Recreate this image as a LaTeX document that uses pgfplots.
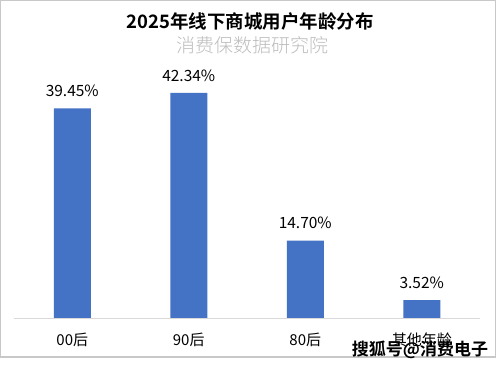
\documentclass[border=0pt]{standalone}
\usepackage{pgfplots}
\pgfplotsset{compat=1.18}
\usepackage{fontspec}
\setmainfont{Noto Sans CJK SC}
\newfontfamily\cjkbold{Noto Sans CJK SC Bold}
\newfontfamily\cjklight{Noto Sans CJK SC Light}
\definecolor{barblue}{HTML}{4472C4}
\definecolor{axgray}{HTML}{D9D9D9}
\definecolor{framegray}{HTML}{C8C8C8}
\definecolor{subgray}{HTML}{BDBDBD}
\begin{document}
\begin{tikzpicture}[x=1pt,y=1pt]
\path[fill=white] (0,0) rectangle (496,367);
\draw[framegray,line width=1.2pt] (0.6,10) rectangle (495.4,366.4);
\node[font=\cjkbold\fontsize{18.5}{20}\selectfont] at (250,345) {2025年线下商城用户年龄分布};
\node[font=\cjklight\fontsize{19}{21}\selectfont,text=subgray] at (252,322) {消费保数据研究院};
\begin{axis}[
  at={(14pt,48pt)}, anchor=south west,
  scale only axis, width=466pt, height=267pt,
  xmin=-0.5, xmax=3.5, ymin=0, ymax=50,
  ybar, bar width=37pt,
  axis line style={draw=none},
  axis x line*=bottom,
  axis y line=none,
  xtick=data,
  xticklabels={00后,90后,80后,其他年龄},
  xtick style={draw=none},
  xticklabel style={font=\fontsize{15}{17}\selectfont, yshift=-6pt},
  /pgf/number format/assume math mode=true,
  nodes near coords={\pgfmathprintnumber[fixed,fixed zerofill,precision=2,assume math mode=true]{\pgfplotspointmeta}\%},
  nodes near coords style={font=\fontsize{15.5}{17}\selectfont, yshift=8pt},
  clip=false,
]
\addplot[fill=barblue, draw=none] coordinates {(0,39.45) (1,42.34) (2,14.70) (3,3.52)};
\draw[axgray, line width=1pt] (axis cs:-0.5,0) -- (axis cs:3.5,0);
\end{axis}
\node[font=\cjkbold\fontsize{17}{19}\selectfont, text=black] at (420,17) {搜狐号@消费电子};
\end{tikzpicture}
\end{document}
